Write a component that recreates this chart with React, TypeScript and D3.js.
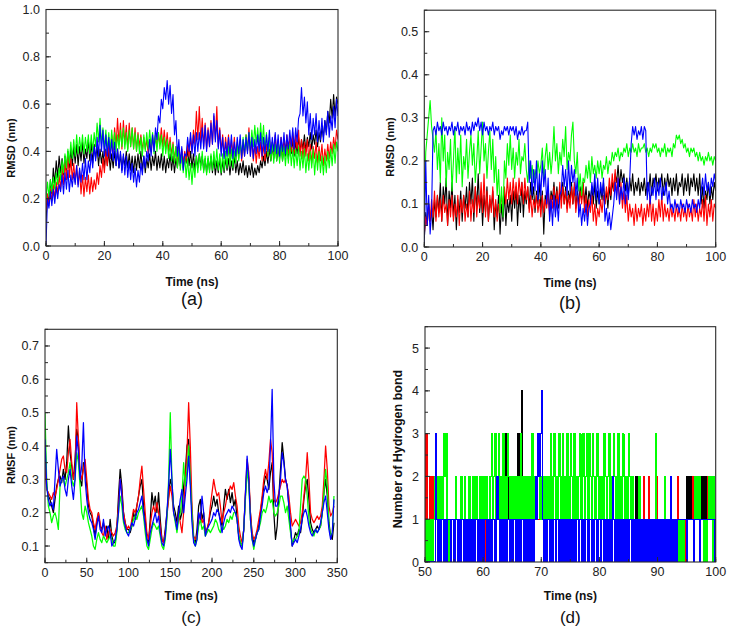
import React, { useEffect } from "react";
import * as d3 from "d3";

// ---------------- DATA ----------------
// Panel (a): RMSD (nm), sampled every 0.5 ns from 0 to 100 ns
const stepA = 0.5;
const rmsdA_black = [
0.1,0.22,0.18,0.28,0.22,0.33,0.26,0.36,0.29,0.38,
0.31,0.37,0.3,0.38,0.32,0.4,0.33,0.41,0.34,0.42,
0.35,0.43,0.34,0.42,0.36,0.44,0.35,0.41,0.37,0.45,
0.36,0.44,0.35,0.43,0.37,0.42,0.34,0.41,0.35,0.4,
0.33,0.41,0.34,0.4,0.32,0.39,0.33,0.4,0.34,0.41,
0.33,0.39,0.32,0.38,0.34,0.4,0.33,0.39,0.32,0.38,
0.31,0.38,0.32,0.39,0.33,0.4,0.32,0.38,0.31,0.37,
0.33,0.39,0.32,0.38,0.34,0.4,0.32,0.38,0.33,0.39,
0.32,0.38,0.31,0.37,0.33,0.39,0.32,0.38,0.31,0.37,
0.33,0.39,0.34,0.4,0.33,0.39,0.35,0.41,0.34,0.4,
0.33,0.39,0.32,0.38,0.33,0.39,0.34,0.38,0.32,0.37,
0.31,0.37,0.32,0.38,0.31,0.37,0.3,0.36,0.31,0.37,
0.3,0.36,0.31,0.37,0.32,0.37,0.3,0.36,0.32,0.38,
0.31,0.36,0.3,0.35,0.31,0.36,0.3,0.34,0.29,0.34,
0.3,0.35,0.29,0.33,0.3,0.34,0.31,0.36,0.33,0.38,
0.34,0.4,0.35,0.41,0.36,0.42,0.37,0.43,0.36,0.41,
0.37,0.43,0.36,0.42,0.38,0.44,0.37,0.43,0.39,0.45,
0.38,0.44,0.39,0.46,0.4,0.45,0.41,0.47,0.4,0.46,
0.42,0.48,0.41,0.47,0.43,0.49,0.42,0.48,0.44,0.5,
0.46,0.53,0.48,0.57,0.52,0.62,0.54,0.64,0.55,0.63,
0.6];
const rmsdA_red = [
0.15,0.22,0.17,0.24,0.19,0.26,0.2,0.27,0.22,0.3,
0.24,0.33,0.26,0.36,0.28,0.38,0.29,0.37,0.28,0.35,
0.27,0.34,0.26,0.32,0.22,0.3,0.21,0.29,0.23,0.3,
0.22,0.29,0.23,0.28,0.24,0.31,0.26,0.34,0.29,0.37,
0.31,0.4,0.34,0.43,0.37,0.47,0.4,0.5,0.42,0.54,
0.43,0.52,0.41,0.53,0.43,0.51,0.41,0.52,0.42,0.5,
0.41,0.5,0.4,0.48,0.42,0.47,0.4,0.46,0.41,0.45,
0.39,0.45,0.4,0.46,0.41,0.47,0.42,0.48,0.43,0.5,
0.42,0.49,0.41,0.48,0.4,0.46,0.38,0.44,0.36,0.42,
0.35,0.42,0.34,0.41,0.35,0.4,0.36,0.43,0.38,0.46,
0.4,0.49,0.43,0.57,0.45,0.59,0.44,0.54,0.42,0.52,
0.41,0.5,0.42,0.53,0.43,0.55,0.45,0.59,0.42,0.5,
0.4,0.47,0.38,0.46,0.39,0.47,0.37,0.45,0.38,0.46,
0.36,0.44,0.37,0.45,0.36,0.43,0.38,0.47,0.4,0.5,
0.38,0.45,0.36,0.43,0.35,0.42,0.37,0.44,0.36,0.43,
0.36,0.43,0.38,0.46,0.37,0.44,0.39,0.47,0.38,0.45,
0.38,0.46,0.39,0.45,0.4,0.47,0.39,0.46,0.4,0.48,
0.39,0.47,0.41,0.49,0.38,0.45,0.37,0.44,0.38,0.45,
0.36,0.43,0.35,0.42,0.37,0.44,0.35,0.42,0.36,0.43,
0.34,0.41,0.36,0.43,0.37,0.44,0.39,0.46,0.41,0.49,
0.45];
const rmsdA_green = [
0.2,0.27,0.21,0.28,0.23,0.29,0.24,0.31,0.26,0.33,
0.28,0.36,0.31,0.39,0.33,0.41,0.35,0.44,0.37,0.45,
0.38,0.47,0.39,0.46,0.4,0.47,0.39,0.46,0.4,0.47,
0.39,0.47,0.4,0.48,0.42,0.52,0.44,0.54,0.43,0.5,
0.41,0.49,0.4,0.48,0.4,0.49,0.41,0.48,0.4,0.47,
0.41,0.49,0.42,0.5,0.41,0.48,0.4,0.49,0.42,0.5,
0.41,0.48,0.4,0.47,0.39,0.46,0.38,0.47,0.4,0.48,
0.41,0.49,0.42,0.48,0.39,0.47,0.4,0.48,0.41,0.47,
0.38,0.46,0.39,0.45,0.37,0.44,0.36,0.43,0.35,0.42,
0.33,0.41,0.32,0.39,0.31,0.38,0.29,0.37,0.28,0.35,
0.26,0.35,0.29,0.38,0.31,0.39,0.32,0.4,0.31,0.38,
0.3,0.38,0.31,0.39,0.32,0.4,0.33,0.41,0.32,0.39,
0.31,0.39,0.32,0.4,0.33,0.42,0.34,0.41,0.33,0.4,
0.35,0.43,0.36,0.44,0.38,0.46,0.39,0.47,0.4,0.48,
0.41,0.49,0.42,0.51,0.43,0.5,0.42,0.52,0.43,0.51,
0.4,0.48,0.38,0.46,0.36,0.44,0.35,0.43,0.36,0.44,
0.35,0.43,0.36,0.42,0.34,0.42,0.35,0.43,0.34,0.41,
0.33,0.41,0.34,0.42,0.32,0.4,0.33,0.41,0.31,0.39,
0.32,0.4,0.33,0.41,0.3,0.39,0.32,0.4,0.31,0.38,
0.3,0.38,0.31,0.4,0.33,0.41,0.34,0.43,0.35,0.44,
0.4];
const rmsdA_blue = [
0.0,0.2,0.16,0.23,0.17,0.24,0.18,0.25,0.2,0.26,
0.23,0.3,0.22,0.31,0.24,0.32,0.23,0.3,0.25,0.31,
0.26,0.34,0.25,0.33,0.27,0.35,0.28,0.37,0.28,0.36,
0.31,0.39,0.33,0.42,0.36,0.46,0.38,0.51,0.4,0.49,
0.38,0.47,0.38,0.46,0.37,0.45,0.36,0.44,0.34,0.41,
0.33,0.4,0.31,0.39,0.3,0.38,0.29,0.36,0.28,0.35,
0.27,0.33,0.25,0.32,0.27,0.35,0.3,0.38,0.33,0.4,
0.36,0.45,0.38,0.47,0.4,0.5,0.45,0.55,0.52,0.62,
0.58,0.67,0.62,0.7,0.6,0.68,0.56,0.64,0.47,0.53,
0.38,0.45,0.35,0.42,0.32,0.39,0.38,0.46,0.4,0.48,
0.39,0.47,0.38,0.48,0.4,0.48,0.41,0.5,0.41,0.51,
0.4,0.49,0.42,0.52,0.43,0.56,0.44,0.53,0.41,0.49,
0.38,0.46,0.37,0.44,0.38,0.46,0.39,0.47,0.37,0.44,
0.38,0.46,0.39,0.47,0.37,0.45,0.38,0.46,0.39,0.48,
0.38,0.46,0.37,0.45,0.39,0.47,0.4,0.48,0.38,0.46,
0.39,0.47,0.4,0.49,0.39,0.46,0.4,0.48,0.39,0.47,
0.38,0.46,0.4,0.48,0.39,0.47,0.41,0.49,0.42,0.5,
0.41,0.5,0.44,0.54,0.56,0.67,0.55,0.63,0.52,0.61,
0.47,0.56,0.45,0.54,0.47,0.56,0.44,0.53,0.45,0.54,
0.44,0.53,0.47,0.57,0.46,0.55,0.49,0.59,0.5,0.62,
0.55];

// Panel (b): RMSD (nm), sampled every 0.5 ns
const stepB = 0.5;
const rmsdB_black = [
0.02,0.08,0.05,0.1,0.06,0.09,0.04,0.11,0.07,0.12,
0.08,0.15,0.06,0.14,0.1,0.16,0.05,0.13,0.09,0.15,
0.07,0.12,0.04,0.11,0.08,0.13,0.06,0.12,0.09,0.14,
0.07,0.15,0.1,0.16,0.06,0.14,0.09,0.17,0.08,0.13,
0.05,0.12,0.08,0.14,0.06,0.11,0.09,0.13,0.04,0.1,
0.07,0.12,0.03,0.1,0.06,0.13,0.05,0.11,0.08,0.12,
0.06,0.13,0.09,0.14,0.05,0.12,0.08,0.15,0.07,0.13,
0.1,0.14,0.09,0.15,0.11,0.14,0.08,0.13,0.1,0.15,
0.09,0.13,0.03,0.12,0.1,0.14,0.08,0.13,0.11,0.15,
0.1,0.14,0.09,0.13,0.11,0.15,0.1,0.14,0.09,0.13,
0.11,0.15,0.1,0.14,0.09,0.13,0.1,0.14,0.11,0.15,
0.1,0.14,0.09,0.13,0.11,0.14,0.1,0.15,0.09,0.13,
0.1,0.14,0.11,0.15,0.1,0.13,0.09,0.14,0.11,0.15,
0.13,0.17,0.15,0.19,0.14,0.18,0.15,0.17,0.13,0.16,
0.12,0.16,0.13,0.17,0.12,0.15,0.13,0.16,0.12,0.15,
0.13,0.16,0.12,0.15,0.13,0.17,0.12,0.16,0.14,0.17,
0.13,0.16,0.14,0.17,0.12,0.16,0.13,0.17,0.14,0.16,
0.12,0.16,0.13,0.17,0.12,0.15,0.14,0.17,0.12,0.16,
0.13,0.17,0.12,0.16,0.14,0.17,0.13,0.16,0.12,0.17,
0.1,0.14,0.09,0.13,0.11,0.15,0.1,0.14,0.11,0.15,
0.13];
const rmsdB_red = [
0.03,0.07,0.05,0.1,0.06,0.11,0.07,0.13,0.06,0.12,
0.07,0.11,0.06,0.12,0.08,0.1,0.05,0.11,0.07,0.12,
0.06,0.1,0.07,0.12,0.05,0.11,0.08,0.12,0.06,0.1,
0.07,0.13,0.06,0.11,0.08,0.14,0.07,0.12,0.09,0.15,
0.08,0.17,0.07,0.13,0.06,0.12,0.08,0.14,0.07,0.11,
0.06,0.1,0.08,0.12,0.09,0.14,0.1,0.16,0.11,0.15,
0.1,0.16,0.11,0.15,0.1,0.16,0.12,0.15,0.1,0.16,
0.11,0.14,0.08,0.12,0.07,0.11,0.09,0.12,0.08,0.11,
0.07,0.12,0.08,0.11,0.09,0.13,0.07,0.12,0.09,0.14,
0.08,0.13,0.1,0.15,0.09,0.14,0.1,0.13,0.08,0.12,
0.09,0.14,0.1,0.15,0.08,0.12,0.09,0.13,0.1,0.15,
0.08,0.12,0.07,0.11,0.08,0.12,0.06,0.1,0.05,0.09,
0.07,0.11,0.08,0.12,0.1,0.14,0.11,0.16,0.12,0.17,
0.13,0.18,0.12,0.16,0.1,0.15,0.09,0.13,0.08,0.12,
0.06,0.1,0.07,0.09,0.05,0.1,0.06,0.09,0.07,0.1,
0.05,0.09,0.06,0.1,0.07,0.12,0.06,0.1,0.05,0.09,
0.06,0.11,0.07,0.12,0.06,0.1,0.07,0.09,0.06,0.1,
0.07,0.09,0.06,0.1,0.07,0.09,0.06,0.1,0.07,0.09,
0.06,0.1,0.07,0.09,0.06,0.11,0.07,0.1,0.06,0.09,
0.07,0.11,0.06,0.12,0.05,0.1,0.07,0.11,0.06,0.1,
0.09];
const rmsdB_green = [
0.1,0.22,0.26,0.3,0.34,0.28,0.25,0.22,0.27,0.18,
0.24,0.15,0.3,0.2,0.26,0.14,0.22,0.18,0.25,0.13,
0.2,0.28,0.15,0.23,0.17,0.26,0.14,0.21,0.18,0.25,
0.16,0.22,0.26,0.19,0.24,0.15,0.2,0.27,0.17,0.23,
0.29,0.2,0.24,0.16,0.22,0.27,0.18,0.25,0.15,0.21,
0.12,0.18,0.08,0.14,0.07,0.2,0.16,0.24,0.19,0.26,
0.18,0.23,0.16,0.22,0.19,0.25,0.17,0.21,0.2,0.24,
0.18,0.15,0.2,0.16,0.19,0.15,0.18,0.16,0.2,0.17,
0.19,0.23,0.16,0.21,0.24,0.18,0.22,0.17,0.21,0.28,
0.2,0.24,0.17,0.22,0.19,0.25,0.21,0.28,0.18,0.22,
0.2,0.26,0.29,0.2,0.17,0.22,0.13,0.17,0.12,0.16,
0.15,0.19,0.16,0.2,0.15,0.21,0.17,0.19,0.16,0.2,
0.17,0.2,0.16,0.19,0.18,0.21,0.17,0.2,0.19,0.22,
0.2,0.22,0.21,0.23,0.2,0.22,0.21,0.23,0.22,0.24,
0.21,0.23,0.22,0.24,0.22,0.23,0.21,0.24,0.22,0.23,
0.23,0.24,0.22,0.23,0.21,0.23,0.22,0.24,0.23,0.24,
0.22,0.23,0.21,0.23,0.22,0.24,0.21,0.23,0.22,0.23,
0.21,0.24,0.23,0.26,0.25,0.26,0.24,0.25,0.23,0.24,
0.22,0.23,0.21,0.23,0.22,0.23,0.21,0.22,0.2,0.22,
0.2,0.21,0.19,0.21,0.2,0.22,0.2,0.21,0.19,0.21,
0.2];
const rmsdB_blue = [
0.0,0.2,0.05,0.12,0.03,0.08,0.27,0.28,0.26,0.29,
0.27,0.28,0.26,0.29,0.27,0.28,0.26,0.28,0.27,0.29,
0.26,0.28,0.27,0.29,0.26,0.28,0.27,0.28,0.26,0.29,
0.27,0.28,0.26,0.29,0.27,0.29,0.28,0.3,0.27,0.29,
0.26,0.29,0.27,0.28,0.26,0.28,0.27,0.29,0.26,0.28,
0.27,0.28,0.25,0.27,0.26,0.28,0.27,0.28,0.26,0.28,
0.27,0.28,0.26,0.28,0.25,0.27,0.26,0.28,0.26,0.27,
0.27,0.29,0.15,0.2,0.12,0.18,0.13,0.2,0.11,0.17,
0.12,0.2,0.14,0.18,0.1,0.16,0.06,0.11,0.05,0.12,
0.07,0.11,0.06,0.12,0.13,0.19,0.14,0.18,0.12,0.2,
0.13,0.19,0.15,0.18,0.12,0.16,0.07,0.1,0.05,0.09,
0.06,0.1,0.05,0.09,0.1,0.15,0.12,0.17,0.11,0.16,
0.1,0.15,0.12,0.16,0.06,0.09,0.05,0.08,0.04,0.07,
0.1,0.15,0.11,0.16,0.1,0.14,0.11,0.16,0.1,0.15,
0.11,0.16,0.24,0.28,0.26,0.28,0.25,0.27,0.26,0.28,
0.25,0.28,0.27,0.11,0.15,0.1,0.14,0.12,0.16,0.11,
0.15,0.12,0.16,0.11,0.14,0.12,0.15,0.1,0.13,0.09,
0.1,0.08,0.11,0.09,0.1,0.08,0.11,0.09,0.1,0.08,
0.11,0.09,0.1,0.08,0.11,0.09,0.1,0.08,0.11,0.09,
0.13,0.16,0.12,0.17,0.13,0.15,0.12,0.16,0.14,0.17,
0.15];

// Panel (c): RMSF (nm), every 2 units from 0 to 346
const stepC = 2;
const rmsfC_black = [
0.38,0.28,0.25,0.24,0.22,0.2,0.24,0.28,0.3,0.31,
0.29,0.33,0.3,0.35,0.46,0.38,0.34,0.3,0.36,0.45,
0.42,0.3,0.28,0.35,0.33,0.28,0.22,0.2,0.19,0.16,
0.13,0.17,0.2,0.16,0.15,0.17,0.14,0.16,0.12,0.18,
0.13,0.11,0.11,0.15,0.25,0.33,0.28,0.2,0.17,0.15,
0.15,0.14,0.16,0.2,0.18,0.22,0.25,0.28,0.3,0.22,
0.18,0.12,0.11,0.18,0.26,0.22,0.25,0.2,0.26,0.18,
0.12,0.11,0.15,0.2,0.25,0.3,0.28,0.22,0.2,0.17,
0.22,0.18,0.2,0.28,0.32,0.4,0.42,0.3,0.2,0.12,
0.11,0.15,0.22,0.24,0.18,0.2,0.14,0.15,0.17,0.2,
0.22,0.25,0.22,0.24,0.2,0.18,0.16,0.22,0.27,0.24,
0.27,0.23,0.26,0.22,0.24,0.18,0.13,0.11,0.1,0.15,
0.25,0.34,0.3,0.2,0.13,0.11,0.12,0.14,0.16,0.2,
0.24,0.28,0.31,0.3,0.27,0.32,0.35,0.2,0.12,0.16,
0.25,0.33,0.41,0.36,0.3,0.28,0.22,0.15,0.1,0.12,
0.14,0.13,0.15,0.14,0.18,0.24,0.28,0.3,0.24,0.17,
0.15,0.14,0.15,0.16,0.15,0.16,0.2,0.26,0.3,0.25,
0.17,0.13,0.12,0.17];
const rmsfC_red = [
0.35,0.27,0.26,0.25,0.24,0.26,0.25,0.27,0.3,0.33,
0.36,0.37,0.33,0.32,0.38,0.42,0.35,0.3,0.33,0.53,
0.42,0.32,0.3,0.33,0.36,0.3,0.24,0.21,0.2,0.17,
0.15,0.18,0.2,0.17,0.14,0.13,0.16,0.12,0.14,0.15,
0.14,0.13,0.14,0.16,0.22,0.3,0.26,0.2,0.17,0.15,
0.16,0.15,0.18,0.21,0.2,0.22,0.25,0.3,0.34,0.27,
0.2,0.14,0.12,0.16,0.2,0.22,0.2,0.23,0.2,0.16,
0.12,0.11,0.14,0.19,0.24,0.28,0.25,0.2,0.18,0.15,
0.2,0.17,0.14,0.2,0.3,0.38,0.53,0.4,0.22,0.13,
0.12,0.13,0.18,0.2,0.17,0.18,0.14,0.15,0.17,0.22,
0.26,0.3,0.27,0.25,0.26,0.22,0.17,0.2,0.22,0.25,
0.26,0.28,0.27,0.29,0.25,0.22,0.16,0.13,0.11,0.15,
0.26,0.36,0.32,0.2,0.14,0.12,0.13,0.15,0.18,0.21,
0.25,0.3,0.33,0.3,0.35,0.42,0.38,0.24,0.23,0.24,
0.26,0.28,0.3,0.29,0.3,0.28,0.25,0.2,0.16,0.17,
0.18,0.17,0.16,0.17,0.2,0.25,0.3,0.38,0.3,0.2,
0.18,0.17,0.18,0.19,0.18,0.19,0.22,0.3,0.4,0.33,
0.22,0.19,0.2,0.22];
const rmsfC_green = [
0.5,0.3,0.22,0.2,0.17,0.19,0.2,0.18,0.15,0.28,
0.3,0.3,0.28,0.3,0.32,0.35,0.3,0.28,0.3,0.38,
0.35,0.28,0.2,0.18,0.22,0.2,0.17,0.15,0.13,0.1,
0.09,0.12,0.14,0.12,0.11,0.13,0.12,0.11,0.12,0.13,
0.12,0.1,0.1,0.14,0.2,0.25,0.22,0.17,0.15,0.14,
0.14,0.15,0.16,0.18,0.19,0.18,0.2,0.21,0.22,0.19,
0.14,0.1,0.09,0.12,0.15,0.17,0.16,0.15,0.16,0.13,
0.1,0.09,0.12,0.18,0.3,0.5,0.3,0.2,0.17,0.14,
0.18,0.2,0.25,0.35,0.28,0.33,0.4,0.3,0.2,0.12,
0.1,0.12,0.16,0.18,0.15,0.16,0.13,0.14,0.15,0.14,
0.15,0.16,0.18,0.17,0.15,0.14,0.16,0.15,0.16,0.18,
0.17,0.19,0.18,0.2,0.2,0.18,0.13,0.11,0.1,0.15,
0.24,0.33,0.28,0.18,0.12,0.09,0.12,0.14,0.15,0.17,
0.2,0.21,0.2,0.22,0.25,0.23,0.24,0.2,0.19,0.2,
0.22,0.25,0.25,0.23,0.2,0.22,0.18,0.14,0.11,0.12,
0.12,0.13,0.14,0.22,0.3,0.31,0.3,0.25,0.18,0.15,
0.14,0.13,0.15,0.14,0.15,0.16,0.2,0.26,0.33,0.28,
0.16,0.13,0.14,0.25];
const rmsfC_blue = [
0.42,0.28,0.24,0.22,0.23,0.21,0.3,0.39,0.33,0.28,
0.3,0.31,0.27,0.25,0.3,0.33,0.28,0.24,0.3,0.43,
0.38,0.3,0.34,0.47,0.3,0.24,0.2,0.18,0.17,0.15,
0.12,0.16,0.19,0.15,0.14,0.18,0.13,0.15,0.16,0.14,
0.1,0.11,0.12,0.15,0.2,0.3,0.25,0.18,0.16,0.14,
0.13,0.15,0.17,0.16,0.18,0.2,0.21,0.23,0.25,0.2,
0.16,0.12,0.1,0.14,0.16,0.18,0.2,0.17,0.19,0.14,
0.11,0.1,0.13,0.2,0.28,0.39,0.3,0.2,0.18,0.15,
0.2,0.24,0.27,0.2,0.25,0.3,0.37,0.28,0.17,0.11,
0.1,0.12,0.2,0.18,0.25,0.2,0.13,0.15,0.16,0.17,
0.18,0.2,0.19,0.21,0.2,0.17,0.14,0.17,0.19,0.2,
0.21,0.2,0.22,0.21,0.2,0.18,0.12,0.1,0.09,0.15,
0.26,0.37,0.3,0.18,0.12,0.1,0.12,0.14,0.15,0.19,
0.22,0.26,0.28,0.26,0.28,0.4,0.57,0.3,0.22,0.22,
0.25,0.3,0.38,0.35,0.3,0.28,0.22,0.16,0.1,0.11,
0.12,0.11,0.13,0.15,0.18,0.2,0.21,0.19,0.16,0.14,
0.13,0.14,0.15,0.14,0.15,0.17,0.2,0.23,0.25,0.2,
0.15,0.12,0.14,0.24];

// Panel (d): number of hydrogen bonds, every 0.2 ns from 50 to 100 ns
const startD = 50;
const stepD = 0.2;
const hbD_black = [
0,1,1,1,1,1,1,1,1,1,
1,1,1,1,1,1,1,1,1,1,
1,1,1,1,1,1,1,1,1,1,
1,1,1,1,1,1,1,1,1,1,
1,1,1,1,1,1,1,1,1,1,
1,1,1,1,1,1,1,1,1,1,
1,1,1,1,1,1,1,1,2,3,
2,3,1,2,1,2,1,1,1,2,
3,2,1,4,2,1,1,1,1,1,
1,1,1,1,1,1,1,1,1,1,
1,1,1,1,1,1,1,1,1,1,
1,1,1,1,1,1,1,1,1,1,
1,1,1,1,1,1,1,1,1,1,
1,1,1,1,1,1,1,1,1,1,
1,1,1,1,1,1,1,1,1,1,
1,1,1,1,1,1,1,1,1,1,
1,1,1,1,1,1,1,1,1,1,
1,1,1,1,1,1,1,1,1,1,
1,2,1,2,2,1,1,1,1,1,
1,1,1,1,1,1,1,1,1,1,
1,1,1,1,1,1,1,1,1,1,
1,1,1,1,1,1,1,1,1,1,
1,1,1,1,1,2,1,2,1,2,
1,2,1,2,2,1,2,1,2,1,
2,1,2,2,1,2,1,1,1,1,
1];
const hbD_red = [
0,3,1,1,2,1,2,1,1,1,
1,1,1,1,1,1,1,1,1,1,
1,1,1,1,1,1,1,1,1,1,
1,1,1,1,0,1,1,1,1,1,
1,1,1,1,1,1,1,1,1,1,
1,0,1,1,1,1,1,1,1,1,
1,1,1,1,1,0,1,1,1,1,
1,1,1,1,1,1,1,1,1,1,
1,1,1,1,1,1,1,1,1,1,
1,1,1,1,1,1,1,1,1,1,
1,1,1,1,1,1,1,1,1,1,
1,1,0,1,1,1,1,1,1,1,
1,1,1,1,1,1,1,1,1,1,
1,1,1,1,1,1,1,1,1,1,
1,1,1,1,1,1,1,1,1,1,
1,1,1,1,1,0,1,1,1,1,
1,1,1,1,1,1,1,1,1,1,
1,1,1,1,1,1,1,1,1,1,
1,1,1,1,1,1,1,1,2,1,
1,1,2,1,1,1,1,1,1,2,
1,1,1,1,1,1,1,1,1,1,
1,1,1,1,1,1,1,2,1,1,
1,1,1,1,0,1,1,1,1,1,
2,1,2,1,1,1,2,1,1,1,
1,1,1,2,1,1,1,1,1,1,
1];
const hbD_green = [
0,1,0,1,0,1,0,1,2,1,
2,1,2,1,2,1,3,2,3,1,
0,1,1,1,1,1,2,1,0,1,
1,2,1,1,2,1,0,1,2,1,
1,2,1,1,2,1,0,2,1,2,
1,2,1,2,1,0,2,3,1,2,
3,1,2,3,1,2,1,3,1,2,
1,3,2,1,2,1,2,1,2,1,
2,1,3,1,2,1,2,1,2,1,
2,1,3,1,2,1,2,3,2,1,
2,1,2,1,2,1,2,1,3,1,
2,3,1,2,1,3,2,1,3,1,
2,1,3,2,1,3,2,1,3,1,
2,1,2,3,1,2,3,1,2,3,
1,3,2,1,3,2,1,2,3,1,
2,1,2,1,3,2,1,2,3,1,
2,1,3,2,1,2,3,1,2,1,
3,2,1,2,1,3,2,1,2,1,
1,1,1,1,2,1,1,1,1,1,
1,1,1,1,1,1,1,1,3,1,
1,1,1,1,1,1,2,1,1,1,
1,1,1,1,1,1,1,1,0,1,
0,1,0,1,1,1,1,1,1,1,
1,1,2,1,2,1,2,1,1,1,
0,1,0,1,2,1,2,0,2,1,
1];
const hbD_blue = [
0,0,0,0,0,0,0,0,0,3,
1,0,1,0,1,1,0,1,0,1,
1,1,0,1,1,0,1,1,0,1,
0,1,1,0,1,0,1,1,0,1,
0,1,0,1,1,0,1,0,1,1,
0,1,1,0,1,0,1,0,1,1,
0,1,2,1,0,1,0,1,0,1,
0,1,1,0,1,0,1,1,0,1,
0,1,0,1,1,0,1,0,1,0,
1,0,1,0,1,2,1,3,2,3,
4,1,0,1,0,1,1,0,1,0,
1,1,0,1,1,0,1,0,1,0,
1,0,1,0,1,0,1,0,1,0,
1,1,0,1,1,0,1,0,1,1,
0,1,1,0,1,0,1,1,0,1,
1,0,1,1,0,1,0,1,0,1,
0,2,1,0,1,0,1,0,1,0,
1,0,1,0,1,0,1,1,0,1,
0,1,0,1,0,1,0,1,0,1,
0,1,0,1,0,1,0,1,0,1,
0,1,0,1,0,1,0,1,0,1,
0,2,0,1,0,1,0,1,1,1,
1,1,1,1,1,0,1,1,1,1,
1,0,1,1,1,1,0,1,1,1,
1,1,1,1,1,1,1,1,1,0,
1];

// Tick labels
const xTicksAB = [0, 20, 40, 60, 80, 100];
const yTicksA = [0, 0.2, 0.4, 0.6, 0.8, 1.0];
const yTicksB = [0, 0.1, 0.2, 0.3, 0.4, 0.5];
const xTicksC = [0, 50, 100, 150, 200, 250, 300, 350];
const yTicksC = [0.1, 0.2, 0.3, 0.4, 0.5, 0.6, 0.7];
const xTicksD = [50, 60, 70, 80, 90, 100];
const yTicksD = [0, 1, 2, 3, 4, 5];

const BLACK = "#000000";
const RED = "#ff0000";
const GREEN = "#00ff00";
const BLUE = "#0000ff";

const FONT = "'Liberation Sans', Arial, Helvetica, sans-serif";
const AXIS = "#2a2a2a";

type Series = { values: number[]; color: string };
type Box = { left: number; top: number; right: number; bottom: number };

type PanelProps = {
  id: string;
  box: Box;
  xDomain: [number, number];
  yDomain: [number, number];
  xTicks: number[];
  xMinorStep: number;
  yTicks: number[];
  yMinorStep: number;
  yFmt: (v: number) => string;
  x0: number;
  step: number;
  series: Series[];
  curve: d3.CurveFactory;
  lineWidth: number;
  crisp?: boolean;
  yLabel: string;
  yLabelPos: [number, number];
  yLabelSize: number;
  xLabelY: number;
  letter: string;
  letterY: number;
  letterSize: number;
};

function Panel(p: PanelProps) {
  const { left, top, right, bottom } = p.box;
  const x = d3.scaleLinear().domain(p.xDomain).range([left, right]);
  const y = d3.scaleLinear().domain(p.yDomain).range([bottom, top]);
  const line = d3
    .line<number>()
    .x((_, i) => x(p.x0 + i * p.step))
    .y((d) => y(d))
    .curve(p.curve);
  const clipId = `clip-${p.id}`;
  const xMinor = d3.range(p.xDomain[0], p.xDomain[1] + 1e-9, p.xMinorStep);
  const yMinor = d3.range(
    Math.ceil(p.yDomain[0] / p.yMinorStep - 1e-9) * p.yMinorStep,
    p.yDomain[1] + 1e-9,
    p.yMinorStep
  );
  const cx = (left + right) / 2;
  return (
    <g>
      <defs>
        <clipPath id={clipId}>
          <rect x={left} y={top} width={right - left} height={bottom - top} />
        </clipPath>
      </defs>
      <g clipPath={`url(#${clipId})`}>
        {p.series.map((s, k) => (
          <path
            key={k}
            d={line(s.values) || ""}
            fill="none"
            stroke={s.color}
            strokeWidth={p.lineWidth}
            strokeLinejoin="round"
            shapeRendering={p.crisp ? "crispEdges" : undefined}
          />
        ))}
      </g>
      <rect
        x={left}
        y={top}
        width={right - left}
        height={bottom - top}
        fill="none"
        stroke={AXIS}
        strokeWidth={1.1}
      />
      {xMinor.map((v, i) => (
        <line key={`xm${i}`} x1={x(v)} x2={x(v)} y1={bottom} y2={bottom - 3} stroke={AXIS} strokeWidth={1} />
      ))}
      {p.xTicks.map((v, i) => (
        <g key={`xt${i}`}>
          <line x1={x(v)} x2={x(v)} y1={bottom} y2={bottom - 5} stroke={AXIS} strokeWidth={1} />
          <text x={x(v)} y={bottom + 14} textAnchor="middle" fontSize={12.5} fill="#222" fontFamily={FONT}>
            {String(v)}
          </text>
        </g>
      ))}
      {yMinor.map((v, i) => (
        <line key={`ym${i}`} x1={left} x2={left + 3} y1={y(v)} y2={y(v)} stroke={AXIS} strokeWidth={1} />
      ))}
      {p.yTicks.map((v, i) => (
        <g key={`yt${i}`}>
          <line x1={left} x2={left + 5} y1={y(v)} y2={y(v)} stroke={AXIS} strokeWidth={1} />
          <text x={left - 6} y={y(v) + 4.5} textAnchor="end" fontSize={12.5} fill="#222" fontFamily={FONT}>
            {p.yFmt(v)}
          </text>
        </g>
      ))}
      <text x={cx} y={p.xLabelY} textAnchor="middle" fontSize={12} fontWeight="bold" fill="#111" fontFamily={FONT}>
        Time (ns)
      </text>
      <text
        transform={`translate(${p.yLabelPos[0]},${p.yLabelPos[1]}) rotate(-90)`}
        textAnchor="middle"
        dominantBaseline="central"
        fontSize={p.yLabelSize}
        fontWeight="bold"
        fill="#111"
        fontFamily={FONT}
      >
        {p.yLabel}
      </text>
      <text x={cx} y={p.letterY} textAnchor="middle" fontSize={p.letterSize} fill="#111" fontFamily={FONT}>
        {p.letter}
      </text>
    </g>
  );
}

export default function App() {
  useEffect(() => {
    document.body.style.margin = "0";
  }, []);
  const f1 = (v: number) => v.toFixed(1);
  const f0 = (v: number) => String(v);
  return (
    <svg
      width={730}
      height={632}
      viewBox="0 0 730 632"
      style={{ position: "absolute", left: 0, top: 0, background: "#fff" }}
    >
      <rect x={0} y={0} width={730} height={632} fill="#fff" />
      <Panel
        id="a"
        box={{ left: 46, top: 9.5, right: 338, bottom: 246 }}
        xDomain={[0, 100]}
        yDomain={[0, 1.0]}
        xTicks={xTicksAB}
        xMinorStep={10}
        yTicks={yTicksA}
        yMinorStep={0.1}
        yFmt={f1}
        x0={0}
        step={stepA}
        series={[
          { values: rmsdA_black, color: BLACK },
          { values: rmsdA_red, color: RED },
          { values: rmsdA_green, color: GREEN },
          { values: rmsdA_blue, color: BLUE },
        ]}
        curve={d3.curveLinear}
        lineWidth={1.1}
        yLabel="RMSD (nm)"
        yLabelPos={[11, 148]}
        yLabelSize={11}
        xLabelY={286}
        letter="(a)"
        letterY={305}
        letterSize={18}
      />
      <Panel
        id="b"
        box={{ left: 424.3, top: 10.2, right: 715.7, bottom: 247 }}
        xDomain={[0, 100]}
        yDomain={[0, 0.55]}
        xTicks={xTicksAB}
        xMinorStep={10}
        yTicks={yTicksB}
        yMinorStep={0.05}
        yFmt={f1}
        x0={0}
        step={stepB}
        series={[
          { values: rmsdB_black, color: BLACK },
          { values: rmsdB_red, color: RED },
          { values: rmsdB_green, color: GREEN },
          { values: rmsdB_blue, color: BLUE },
        ]}
        curve={d3.curveLinear}
        lineWidth={1.1}
        yLabel="RMSD (nm)"
        yLabelPos={[390, 147]}
        yLabelSize={11}
        xLabelY={287}
        letter="(b)"
        letterY={309}
        letterSize={18}
      />
      <Panel
        id="c"
        box={{ left: 45, top: 329.3, right: 337.3, bottom: 562.7 }}
        xDomain={[0, 350]}
        yDomain={[0.05, 0.75]}
        xTicks={xTicksC}
        xMinorStep={25}
        yTicks={yTicksC}
        yMinorStep={0.05}
        yFmt={f1}
        x0={0}
        step={stepC}
        series={[
          { values: rmsfC_black, color: BLACK },
          { values: rmsfC_red, color: RED },
          { values: rmsfC_green, color: GREEN },
          { values: rmsfC_blue, color: BLUE },
        ]}
        curve={d3.curveLinear}
        lineWidth={1.25}
        yLabel="RMSF (nm)"
        yLabelPos={[11, 455]}
        yLabelSize={11}
        xLabelY={600}
        letter="(c)"
        letterY={623}
        letterSize={17}
      />
      <Panel
        id="d"
        box={{ left: 425, top: 326.7, right: 715.7, bottom: 562 }}
        xDomain={[50, 100]}
        yDomain={[0, 5.5]}
        xTicks={xTicksD}
        xMinorStep={5}
        yTicks={yTicksD}
        yMinorStep={0.5}
        yFmt={f0}
        x0={startD}
        step={stepD}
        series={[
          { values: hbD_black, color: BLACK },
          { values: hbD_red, color: RED },
          { values: hbD_green, color: GREEN },
          { values: hbD_blue, color: BLUE },
        ]}
        curve={d3.curveStepAfter}
        lineWidth={1.4}
        crisp={true}
        yLabel="Number of Hydrogen bond"
        yLabelPos={[398, 449]}
        yLabelSize={12.5}
        xLabelY={600}
        letter="(d)"
        letterY={623}
        letterSize={17}
      />
    </svg>
  );
}
